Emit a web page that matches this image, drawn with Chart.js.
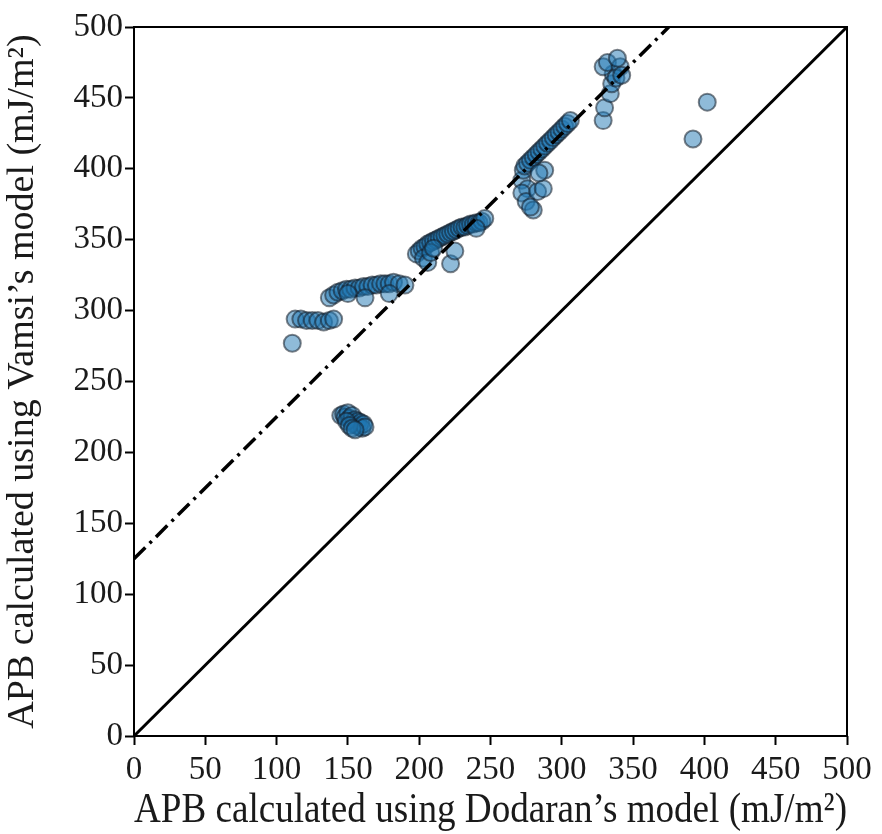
<!DOCTYPE html>
<html>
<head>
<meta charset="utf-8">
<script src="https://cdn.jsdelivr.net/npm/chart.js@4.4.0/dist/chart.umd.min.js"></script>
<style>
  html, body { margin: 0; padding: 0; background: #fff; }
  #wrap { width: 882px; height: 834px; }
</style>
</head>
<body>
<div id="wrap"><canvas id="chart" width="882" height="834"></canvas></div>
<script>
// APB from Dodaran's model (x) vs Vamsi's model (y), mJ/m^2
const dodaran = [
  111, 113, 117, 121, 125, 129, 133, 137, 140,
  137, 140, 143, 146, 149, 152, 155, 158, 161, 164, 167, 170, 173, 176, 179, 182, 186, 190, 150, 162, 179,
  145, 147, 148, 150, 151, 152, 153, 154, 155, 156, 157, 158, 159, 160, 161, 162, 149, 151, 153, 155,
  198, 200, 202, 204, 206, 208, 210, 212, 214, 216, 218, 220, 222, 224, 226, 228, 230, 232, 234, 236, 238, 240, 242, 244, 246,
  203, 206, 222, 208, 225, 240, 210,
  272, 273, 274, 276, 278, 280, 282, 284, 286, 288, 290, 292, 294, 296, 298, 300, 302, 304, 306,
  276, 272, 275, 280, 283, 287, 288, 278, 284,
  329, 330, 334, 335, 336, 329, 332, 341, 339, 338, 342,
  402, 392
];
const vamsi = [
  277, 294, 294, 293, 293, 293, 292, 293, 294,
  309, 311, 313, 314, 315, 315, 316, 316, 317, 317, 318, 318, 319, 319, 319, 320, 319, 318, 312, 309, 312,
  226, 227, 225, 228, 224, 222, 226, 220, 223, 219, 222, 218, 221, 217, 220, 218, 222, 219, 217, 216,
  340, 342, 344, 345, 347, 348, 349, 350, 351, 352, 353, 354, 355, 356, 357, 358, 359, 359, 360, 361, 361, 362, 362, 363, 365,
  337, 334, 333, 341, 342, 358, 344,
  392, 399, 402, 404, 406, 408, 410, 412, 414, 416, 418, 420, 422, 424, 426, 428, 430, 432, 434,
  386, 383, 377, 371, 384, 386, 399, 373, 397,
  434, 443, 453, 460, 467, 472, 475, 472, 478, 464, 466,
  447, 421
];
const tickValues = [0, 50, 100, 150, 200, 250, 300, 350, 400, 450, 500];
const identityLine = [[0, 0], [500, 500]];
const offsetLine = [[0, 125], [375, 500]];

const points = dodaran.map((x, i) => ({ x: x, y: vamsi[i] }));
const toXY = arr => arr.map(p => ({ x: p[0], y: p[1] }));

const FONT = "'Liberation Serif', 'DejaVu Serif', serif";
const TEXT = '#1a1a1a';

// box around plot area
const frame = {
  id: 'frame',
  afterDatasetsDraw(chart) {
    const { ctx, chartArea: a } = chart;
    ctx.save();
    ctx.strokeStyle = '#000';
    ctx.lineWidth = 2;
    ctx.strokeRect(a.left, a.top, a.right - a.left, a.bottom - a.top);
    ctx.restore();
  }
};

const axisCommon = {
  type: 'linear',
  min: 0,
  max: 500,
  afterBuildTicks: s => { s.ticks = tickValues.map(v => ({ value: v })); },
  grid: { drawOnChartArea: false, drawTicks: true, tickLength: 9, tickWidth: 2, tickColor: '#000' },
  border: { display: false },
  ticks: { color: TEXT, font: { family: FONT, size: 33 } },
  title: { display: true, color: TEXT }
};

new Chart(document.getElementById('chart'), {
  type: 'scatter',
  data: {
    datasets: [
      {
        data: points,
        backgroundColor: 'rgba(31,119,180,0.5)',
        borderColor: 'rgba(20,30,40,0.55)',
        borderWidth: 2,
        pointRadius: 8.5,
        order: 2
      },
      {
        type: 'line',
        data: toXY(identityLine),
        borderColor: '#000',
        borderWidth: 3,
        pointRadius: 0,
        order: 1
      },
      {
        type: 'line',
        data: toXY(offsetLine),
        borderColor: '#000',
        borderWidth: 3.5,
        borderDash: [16, 6, 3, 6],
        pointRadius: 0,
        order: 1
      }
    ]
  },
  options: {
    responsive: false,
    animation: false,
    layout: { padding: { top: 27, right: 35, left: 0, bottom: 0 } },
    plugins: { legend: { display: false }, tooltip: { enabled: false } },
    scales: {
      x: Object.assign({}, axisCommon, {
        position: 'bottom',
        afterFit: s => { s.height = 98; },
        ticks: Object.assign({}, axisCommon.ticks, { padding: 6, maxRotation: 0 }),
        title: Object.assign({}, axisCommon.title, {
          text: 'APB calculated using Dodaran\u2019s model (mJ/m\u00b2)',
          font: { family: FONT, size: 42, lineHeight: 1 },
          padding: { top: 0, bottom: 2 }
        })
      }),
      y: Object.assign({}, axisCommon, {
        position: 'left',
        afterFit: s => { s.width = 134; },
        ticks: Object.assign({}, axisCommon.ticks, { padding: 2 }),
        title: Object.assign({}, axisCommon.title, {
          text: 'APB calculated using Vamsi\u2019s model (mJ/m\u00b2)',
          font: { family: FONT, size: 38, lineHeight: 1 },
          padding: { top: 4, bottom: 0 }
        })
      })
    }
  },
  plugins: [frame]
});
</script>
</body>
</html>
